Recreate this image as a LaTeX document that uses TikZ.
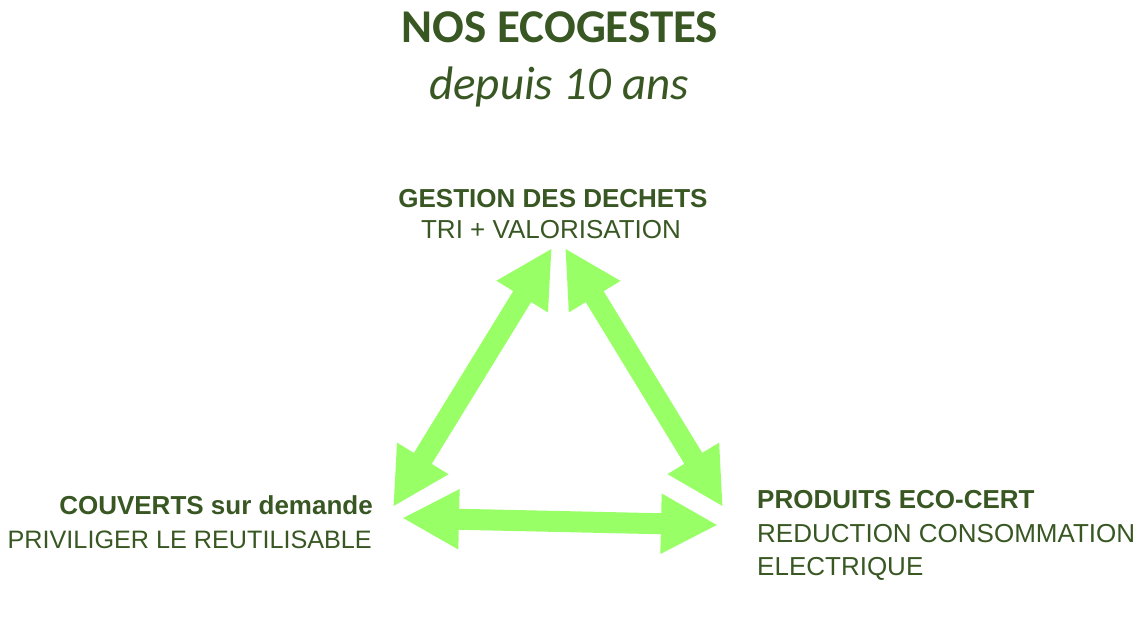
\documentclass[tikz,border=0pt]{standalone}
\usepackage{fontspec}
\setmainfont{Liberation Sans}
\newfontfamily\titlefont{Carlito}
\usetikzlibrary{arrows.meta}
\definecolor{ecogreen}{RGB}{56,87,35}
\definecolor{arrowgreen}{RGB}{153,255,102}

\begin{document}
\begin{tikzpicture}[x=1pt, y=-1pt,
    headtext/.style={text=ecogreen, inner sep=0pt, font=\fontsize{26}{30}\selectfont\bfseries},
    subtext/.style={text=ecogreen, inner sep=0pt, font=\fontsize{26}{30}\selectfont},
    bigarrow/.style={arrowgreen, line width=21pt, >={Triangle[length=57pt,width=56pt]}, <->}]
    \useasboundingbox (0,0) rectangle (1142,622);

    % Title
    \node[anchor=base, text=ecogreen, inner sep=0pt, font=\titlefont\fontsize{47}{56}\selectfont\bfseries] (title) at (560,42) {NOS ECOGESTES};
    \node[anchor=base, text=ecogreen, inner sep=0pt, font=\titlefont\fontsize{47}{56}\selectfont\itshape] (since) at (559,99) {depuis 10 ans};

    % Top item
    \node[headtext, anchor=base] (dechets) at (553,207) {GESTION DES DECHETS};
    \node[subtext, anchor=base] (tri) at (551,238) {TRI + VALORISATION};

    % Left item
    \node[headtext, anchor=base east] (couverts) at (373,514) {COUVERTS sur demande};
    \node[subtext, anchor=base east, font=\fontsize{25.2}{30}\selectfont] (reutil) at (372,548) {PRIVILIGER LE REUTILISABLE};

    % Right item
    \node[headtext, anchor=base west] (produits) at (757,508) {PRODUITS ECO-CERT};
    \node[subtext, anchor=base west] (reduction) at (757,542) {REDUCTION CONSOMMATION};
    \node[subtext, anchor=base west] (electrique) at (757,575) {ELECTRIQUE};

    % Arrow tips
    \coordinate (topL) at (552,248);
    \coordinate (topR) at (565,248);
    \coordinate (leftA) at (393,507);
    \coordinate (leftB) at (402,518);
    \coordinate (rightA) at (723,507);
    \coordinate (rightB) at (718,525);

    % Arrows
    \draw[bigarrow] (topL) -- (leftA);
    \draw[bigarrow] (topR) -- (rightA);
    \draw[bigarrow] (leftB) -- (rightB);
\end{tikzpicture}
\end{document}
